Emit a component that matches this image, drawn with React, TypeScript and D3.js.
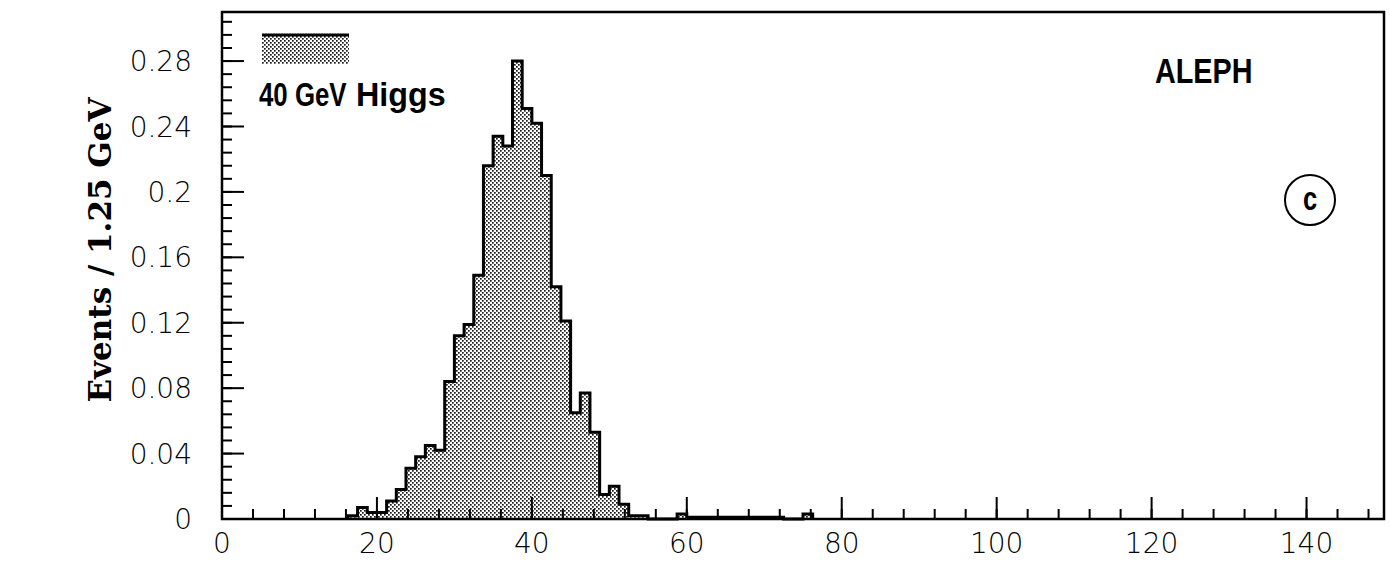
import React, { useEffect, useRef } from "react";
import * as d3 from "d3";

// histogram of the 40 GeV Higgs mass, bins of 1.25 GeV starting at 16.25 GeV
const binWidth = 1.25;
const firstBinLow = 16.25;
const eventsPerBin = [
  0.002, 0.007, 0.004, 0.004, 0.011, 0.018, 0.031, 0.038, 0.045, 0.042,
  0.084, 0.112, 0.119, 0.149, 0.216, 0.234, 0.228, 0.28, 0.251, 0.242,
  0.21, 0.142, 0.121, 0.065, 0.077, 0.053, 0.015, 0.02, 0.009, 0.002,
  0.002, 0, 0, 0, 0.003, 0.001, 0.001, 0.001, 0.001, 0.001,
  0.001, 0.001, 0.001, 0.001, 0.001, 0, 0, 0.003,
];

const xTickLabels = [0, 20, 40, 60, 80, 100, 120, 140];
const yTickLabels = [0, 0.04, 0.08, 0.12, 0.16, 0.2, 0.24, 0.28];

const W = 1390;
const H = 563;
const margin = { top: 12, right: 6, bottom: 44, left: 222 };

const App: React.FC = () => {
  const svgRef = useRef<SVGSVGElement | null>(null);

  useEffect(() => {
    if (!svgRef.current) return;
    const svg = d3.select(svgRef.current);
    svg.selectAll("*").remove();

    const plotW = W - margin.left - margin.right;
    const plotH = H - margin.top - margin.bottom;

    const x = d3.scaleLinear().domain([0, 150]).range([0, plotW]);
    const y = d3.scaleLinear().domain([0, 0.31]).range([plotH, 0]);

    const defs = svg.append("defs");
    const pat = defs
      .append("pattern")
      .attr("id", "stipple")
      .attr("patternUnits", "userSpaceOnUse")
      .attr("width", 4)
      .attr("height", 4);
    pat.append("rect").attr("width", 4).attr("height", 4).attr("fill", "#fff");
    pat.append("rect").attr("x", 0).attr("y", 0).attr("width", 1.7).attr("height", 1.7).attr("fill", "#1a1a1a");
    pat.append("rect").attr("x", 2).attr("y", 2).attr("width", 1.7).attr("height", 1.7).attr("fill", "#1a1a1a");

    const g = svg.append("g").attr("transform", `translate(${margin.left},${margin.top})`);

    // bins -> step points
    const pts: [number, number][] = eventsPerBin.map((v, i) => [firstBinLow + i * binWidth, v]);
    const lastEdge = firstBinLow + eventsPerBin.length * binWidth;
    pts.push([lastEdge, 0]);

    const area = d3
      .area<[number, number]>()
      .x(d => x(d[0]))
      .y0(y(0))
      .y1(d => y(d[1]))
      .curve(d3.curveStepAfter);

    g.append("path").datum(pts).attr("d", area).attr("fill", "url(#stipple)");

    const line = d3
      .line<[number, number]>()
      .x(d => x(d[0]))
      .y(d => y(d[1]))
      .curve(d3.curveStepAfter);

    g.append("path")
      .datum([[firstBinLow, 0] as [number, number], ...pts])
      .attr("d", line)
      .attr("fill", "none")
      .attr("stroke", "#000")
      .attr("stroke-width", 3)
      .attr("stroke-linejoin", "miter");

    // ticks, pointing inwards
    const xMinor = d3.range(0, 150, 4);
    g.selectAll(".xminor")
      .data(xMinor)
      .enter()
      .append("line")
      .attr("x1", d => x(d))
      .attr("x2", d => x(d))
      .attr("y1", plotH)
      .attr("y2", plotH - 10)
      .attr("stroke", "#000")
      .attr("stroke-width", 2);
    g.selectAll(".xmajor")
      .data(xTickLabels)
      .enter()
      .append("line")
      .attr("x1", d => x(d))
      .attr("x2", d => x(d))
      .attr("y1", plotH)
      .attr("y2", plotH - 22)
      .attr("stroke", "#000")
      .attr("stroke-width", 2);

    const yMinor = d3.range(0, 0.309, 0.008);
    g.selectAll(".yminor")
      .data(yMinor)
      .enter()
      .append("line")
      .attr("x1", 0)
      .attr("x2", 10)
      .attr("y1", d => y(d))
      .attr("y2", d => y(d))
      .attr("stroke", "#000")
      .attr("stroke-width", 2);
    g.selectAll(".ymajor")
      .data(yTickLabels)
      .enter()
      .append("line")
      .attr("x1", 0)
      .attr("x2", 22)
      .attr("y1", d => y(d))
      .attr("y2", d => y(d))
      .attr("stroke", "#000")
      .attr("stroke-width", 2);

    // frame
    g.append("rect")
      .attr("width", plotW)
      .attr("height", plotH)
      .attr("fill", "none")
      .attr("stroke", "#000")
      .attr("stroke-width", 2.5);

    const tickFont = "'DejaVu Sans', sans-serif";
    g.selectAll(".xlab")
      .data(xTickLabels)
      .enter()
      .append("text")
      .attr("x", d => x(d))
      .attr("y", plotH + 34)
      .attr("text-anchor", "middle")
      .attr("font-family", tickFont)
      .attr("font-weight", 200)
      .attr("font-size", 28)
      .text(d => String(d));

    const fmt = d3.format(".2~f");
    g.selectAll(".ylab")
      .data(yTickLabels)
      .enter()
      .append("text")
      .attr("x", -30)
      .attr("y", d => y(d))
      .attr("dy", "0.36em")
      .attr("text-anchor", "end")
      .attr("font-family", tickFont)
      .attr("font-weight", 200)
      .attr("font-size", 28)
      .text(d => fmt(d));

    // y title
    svg.append("text")
      .attr("transform", "translate(111,250) rotate(-90)")
      .attr("text-anchor", "middle")
      .attr("font-family", "'DejaVu Serif', serif")
      .attr("font-weight", "bold")
      .attr("font-size", 31)
      .text("Events / 1.25 GeV");

    const narrow = "'Liberation Sans', Arial, sans-serif";

    // legend
    svg.append("rect")
      .attr("x", 262).attr("y", 34).attr("width", 87).attr("height", 30)
      .attr("fill", "url(#stipple)");
    svg.append("line")
      .attr("x1", 262).attr("x2", 349).attr("y1", 35).attr("y2", 35)
      .attr("stroke", "#000").attr("stroke-width", 3);
    svg.append("text")
      .attr("transform", "translate(259,106) scale(0.76,1)")
      .attr("font-family", narrow).attr("font-weight", "bold").attr("font-size", 34)
      .text("40 GeV");
    svg.append("text")
      .attr("transform", "translate(356,106) scale(0.95,1)")
      .attr("font-family", narrow).attr("font-weight", "bold").attr("font-size", 34)
      .text("Higgs");

    svg.append("text")
      .attr("transform", "translate(1155,83) scale(0.8,1)")
      .attr("font-family", narrow).attr("font-size", 36)
      .attr("font-weight", "bold")
      .text("ALEPH");

    svg.append("circle")
      .attr("cx", 1310).attr("cy", 200).attr("r", 25)
      .attr("fill", "none").attr("stroke", "#000").attr("stroke-width", 2);
    svg.append("text")
      .attr("transform", "translate(1310,210) scale(0.75,1)")
      .attr("text-anchor", "middle")
      .attr("font-family", narrow).attr("font-weight", "bold").attr("font-size", 34)
      .text("c");
  }, []);

  return (
    <div style={{ position: "absolute", left: 0, top: 0 }}>
      <svg ref={svgRef} width={W} height={H} style={{ display: "block", background: "#fff" }} />
    </div>
  );
};

export default App;
